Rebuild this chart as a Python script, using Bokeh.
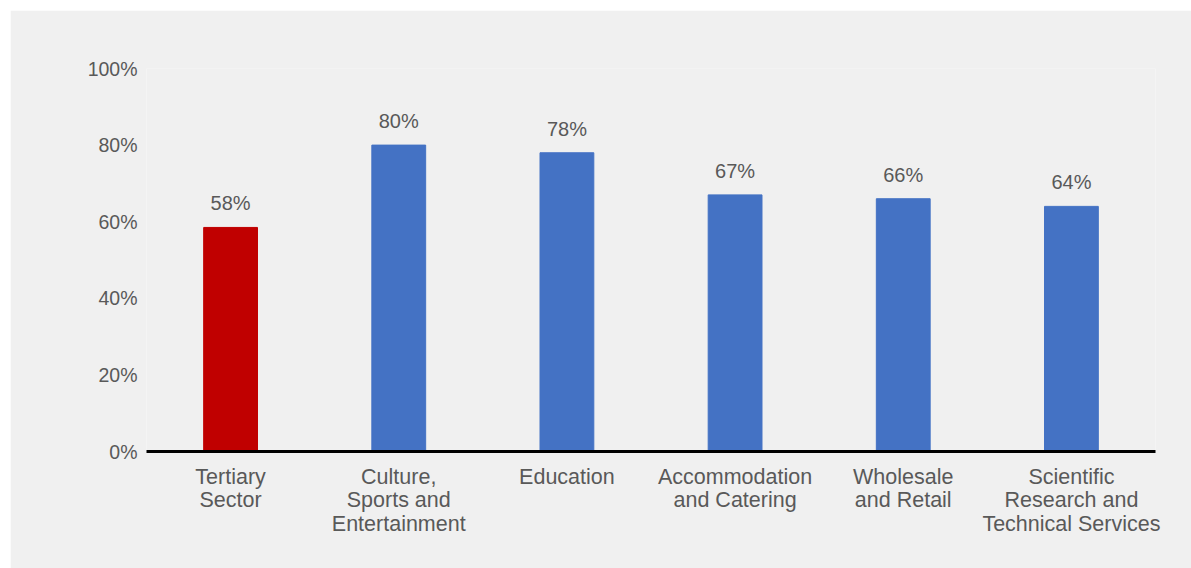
from bokeh.plotting import figure
from bokeh.models import ColumnDataSource, FixedTicker, PrintfTickFormatter
from bokeh.core.properties import value
from bokeh.embed import file_html
from bokeh.resources import INLINE

categories = ["Tertiary\nSector", "Culture,\nSports and\nEntertainment", "Education",
              "Accommodation\nand Catering", "Wholesale\nand Retail",
              "Scientific\nResearch and\nTechnical Services"]
values = [58.5, 80, 78, 67, 66, 64]
labels = ["58%", "80%", "78%", "67%", "66%", "64%"]
colors = ["#C00000", "#4472C4", "#4472C4", "#4472C4", "#4472C4", "#4472C4"]
y_ticks = [0, 20, 40, 60, 80, 100]

src = ColumnDataSource(dict(cat=categories, val=values, lab=labels, col=colors))

BG = "#F0F0F0"
TXT = "#595959"
FONT = "Liberation Sans"

p = figure(x_range=categories, y_range=(0, 100), width=1181, height=558,
           output_backend="svg", toolbar_location=None,
           background_fill_color=BG, border_fill_color=BG,
           min_border_left=136, min_border_right=36, min_border_top=58,
           min_border_bottom=117, outline_line_color=None)
p.margin = (10, 0, 0, 10)
p.x_range.range_padding = 0

p.vbar(x="cat", top="val", width=0.32, color="col", source=src)
p.text(x="cat", y="val", text="lab", source=src, text_align="center",
       text_baseline="alphabetic", y_offset=-24, text_color=TXT,
       text_font=value(FONT), text_font_size="20px")

p.xgrid.grid_line_color = None
p.ygrid.grid_line_color = None

p.yaxis.ticker = FixedTicker(ticks=y_ticks)
p.yaxis.formatter = PrintfTickFormatter(format="%d%%")
p.yaxis.axis_line_color = None
p.yaxis.major_tick_line_color = None
p.yaxis.minor_tick_line_color = None
p.yaxis.major_tick_out = 0
p.yaxis.major_tick_in = 0
p.yaxis.major_label_standoff = 9
p.yaxis.major_label_text_font = FONT
p.yaxis.major_label_text_font_size = "19.5px"
p.yaxis.major_label_text_color = TXT

p.xaxis.axis_line_color = "black"
p.xaxis.axis_line_width = 3
p.xaxis.major_tick_line_color = None
p.xaxis.major_tick_out = 0
p.xaxis.major_tick_in = 0
p.xaxis.major_label_standoff = 13
p.xaxis.major_label_text_font = FONT
p.xaxis.major_label_text_font_size = "21.5px"
p.xaxis.major_label_text_color = TXT
p.xaxis.major_label_text_line_height = 0.98

open("out.html", "w").write(file_html(p, INLINE))
